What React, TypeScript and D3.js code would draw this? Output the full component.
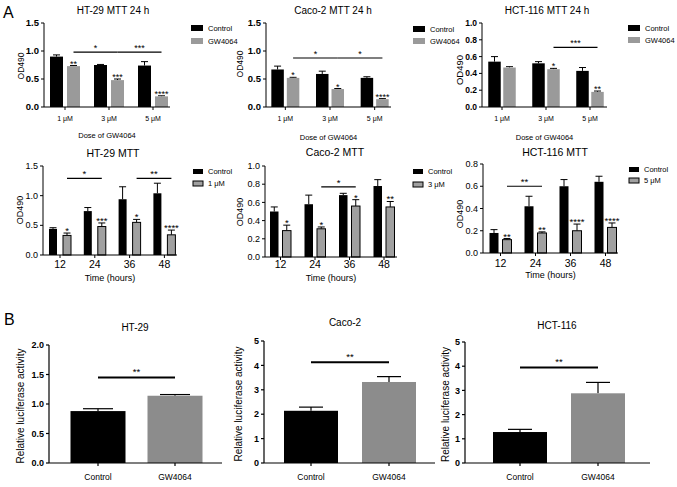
import React from "react";
import * as d3 from "d3";

const FONT = "'Liberation Sans', Arial, Helvetica, sans-serif";
const GRAY_A = "#9a9a9a";
const GRAY_B = "#a0a0a0";
const GRAY_C = "#8c8c8c";

// ---------- Panel A, top row: 24 h dose response ----------
const doseLabels = ["1 μM", "3 μM", "5 μM"];

const ht29DoseControl = [0.9, 0.75, 0.74];
const ht29DoseControlErr = [0.03, 0.01, 0.07];
const ht29DoseGw = [0.73, 0.48, 0.19];
const ht29DoseGwErr = [0.01, 0.02, 0.01];
const ht29DoseStars = ["**", "***", "****"];
const ht29DoseSig: [string, string, string, number][] = [
  ["1 μM", "3 μM", "*", 0.98],
  ["3 μM", "5 μM", "***", 0.98],
];

const cacoDoseControl = [0.67, 0.59, 0.52];
const cacoDoseControlErr = [0.06, 0.05, 0.02];
const cacoDoseGw = [0.52, 0.32, 0.14];
const cacoDoseGwErr = [0.01, 0.01, 0.01];
const cacoDoseStars = ["*", "*", "****"];
const cacoDoseSig: [string, string, string, number][] = [
  ["1 μM", "3 μM", "*", 0.875],
  ["3 μM", "5 μM", "*", 0.875],
];

const hctDoseControl = [0.54, 0.52, 0.43];
const hctDoseControlErr = [0.06, 0.02, 0.04];
const hctDoseGw = [0.47, 0.45, 0.18];
const hctDoseGwErr = [0.01, 0.01, 0.01];
const hctDoseStars = ["", "*", "**"];
const hctDoseSig: [string, string, string, number][] = [["3 μM", "5 μM", "***", 0.71]];

// ---------- Panel A, middle row: time course ----------
const timeLabels = ["12", "24", "36", "48"];

const ht29TimeControl = [0.44, 0.74, 0.94, 1.04];
const ht29TimeControlErr = [0.02, 0.06, 0.21, 0.17];
const ht29TimeGw = [0.33, 0.48, 0.55, 0.34];
const ht29TimeGwErr = [0.04, 0.06, 0.05, 0.08];
const ht29TimeStars = ["*", "***", "*", "****"];
const ht29TimeSig: [string, string, string, number][] = [
  ["12", "24", "*", 1.29],
  ["36", "48", "**", 1.29],
];

const cacoTimeControl = [0.5, 0.58, 0.68, 0.78];
const cacoTimeControlErr = [0.05, 0.1, 0.02, 0.07];
const cacoTimeGw = [0.29, 0.31, 0.56, 0.55];
const cacoTimeGwErr = [0.06, 0.02, 0.07, 0.06];
const cacoTimeStars = ["*", "*", "*", "**"];
const cacoTimeSig: [string, string, string, number][] = [["24", "36", "*", 0.77]];

const hctTimeControl = [0.18, 0.42, 0.6, 0.64];
const hctTimeControlErr = [0.03, 0.09, 0.06, 0.05];
const hctTimeGw = [0.12, 0.18, 0.2, 0.23];
const hctTimeGwErr = [0.01, 0.01, 0.06, 0.04];
const hctTimeStars = ["**", "**", "****", "****"];
const hctTimeSig: [string, string, string, number][] = [["12", "24", "**", 0.6]];

// ---------- Panel B: luciferase ----------
const lucLabels = ["Control", "GW4064"];
const ht29Luc = [0.88, 1.14];
const ht29LucErr = [0.04, 0.02];
const cacoLuc = [2.14, 3.32];
const cacoLucErr = [0.15, 0.22];
const hctLuc = [1.28, 2.88];
const hctLucErr = [0.11, 0.45];

const ticksA15 = [0, 0.5, 1.0, 1.5];
const ticksA10 = [0, 0.2, 0.4, 0.6, 0.8, 1.0];
const ticksB08 = [0, 0.2, 0.4, 0.6, 0.8];
const ticksC20 = [0, 0.5, 1.0, 1.5, 2.0];
const ticksC5 = [0, 1, 2, 3, 4, 5];

type Sig = [string, string, string, number];

interface Layout {
  axisX: number;
  axisRight: number;
  bandStart: number;
  bandEnd: number;
  yZero: number;
  yTop: number;
  bw: number;
  gap: number;
  cap: number;
  tickFont: number;
  catFont: number;
  catY: number;
  xTitle: string;
  xTitleFont: number;
  xTitleY: number;
  title: string;
  titleX: number;
  titleY: number;
  titleFont: number;
  yLabelX: number;
  yLabelY: number;
  yLabelFont: number;
  legX: number;
  legY1: number;
  legY2: number;
  legW: number;
  legH: number;
  legFont: number;
  grayOutline: boolean;
  gray: string;
  starFont: number;
  tickBold: boolean;
}

interface GroupProps {
  cats: string[];
  ctrl: number[];
  ctrlErr: number[];
  gw: number[];
  gwErr: number[];
  stars: string[];
  sigs: Sig[];
  yMax: number;
  yTicks: number[];
  legend2: string;
  L: Layout;
}

function GroupPanel({ cats, ctrl, ctrlErr, gw, gwErr, stars, sigs, yMax, yTicks, legend2, L }: GroupProps) {
  const x = d3.scaleBand<string>().domain(cats).range([L.bandStart, L.bandEnd]).padding(0);
  const y = d3.scaleLinear().domain([0, yMax]).range([L.yZero, L.yTop]);
  const fmt = d3.format(".1f");
  const cx = (c: string) => (x(c) as number) + x.bandwidth() / 2;
  const ctrlX = (c: string) => cx(c) - L.gap / 2 - L.bw;
  const gwX = (c: string) => cx(c) + L.gap / 2;
  const bar = (bx: number, v: number, e: number, fill: string, outline: boolean, key: string) => {
    const mid = bx + L.bw / 2;
    return (
      <g key={key}>
        <line x1={mid} x2={mid} y1={y(v)} y2={y(v + e)} stroke="#000" strokeWidth={1} />
        <line x1={mid - L.cap / 2} x2={mid + L.cap / 2} y1={y(v + e)} y2={y(v + e)} stroke="#000" strokeWidth={1} />
        <rect
          x={bx}
          y={y(v)}
          width={L.bw}
          height={y(0) - y(v)}
          fill={fill}
          stroke={outline ? "#000" : "none"}
          strokeWidth={outline ? 1 : 0}
        />
      </g>
    );
  };
  return (
    <g fontFamily={FONT}>
      <text x={L.titleX} y={L.titleY} textAnchor="middle" fontSize={L.titleFont}>
        {L.title}
      </text>
      {/* y axis */}
      <line x1={L.axisX} x2={L.axisX} y1={y(0)} y2={y(yMax)} stroke="#000" strokeWidth={1} />
      {yTicks.map((t) => (
        <g key={"yt" + t}>
          <line x1={L.axisX - 3} x2={L.axisX} y1={y(t)} y2={y(t)} stroke="#000" />
          <text
            x={L.axisX - 5}
            y={y(t)}
            dy="0.35em"
            textAnchor="end"
            fontSize={L.tickFont}
            fontWeight={L.tickBold ? "bold" : "normal"}
          >
            {fmt(t)}
          </text>
        </g>
      ))}
      <text
        transform={`translate(${L.yLabelX},${L.yLabelY}) rotate(-90)`}
        textAnchor="middle"
        fontSize={L.yLabelFont}
      >
        OD490
      </text>
      {/* bars */}
      {cats.map((c, i) => (
        <g key={c}>
          {bar(ctrlX(c), ctrl[i], ctrlErr[i], "#000", false, "c" + c)}
          {bar(gwX(c), gw[i], gwErr[i], L.gray, L.grayOutline, "g" + c)}
          {stars[i] ? (
            <text
              x={gwX(c) + L.bw / 2}
              y={y(gw[i] + gwErr[i]) + 1}
              textAnchor="middle"
              fontSize={L.starFont}
            >
              {stars[i]}
            </text>
          ) : null}
        </g>
      ))}
      {/* x axis */}
      <line x1={L.axisX} x2={L.axisRight} y1={y(0)} y2={y(0)} stroke="#000" strokeWidth={1} />
      {cats.map((c) => (
        <g key={"xt" + c}>
          <line x1={cx(c)} x2={cx(c)} y1={y(0)} y2={y(0) + 3} stroke="#000" />
          <text x={cx(c)} y={L.catY} textAnchor="middle" fontSize={L.catFont}>
            {c}
          </text>
        </g>
      ))}
      <text x={(L.axisX + L.axisRight) / 2} y={L.xTitleY} textAnchor="middle" fontSize={L.xTitleFont}>
        {L.xTitle}
      </text>
      {/* significance */}
      {sigs.map(([a, b, lab, v], i) => {
        const x1 = gwX(a) + L.bw / 2;
        const x2 = gwX(b) + L.bw / 2;
        return (
          <g key={"s" + i}>
            <line x1={x1} x2={x2} y1={y(v)} y2={y(v)} stroke="#000" strokeWidth={1.2} />
            <text x={(x1 + x2) / 2} y={y(v) - 1} textAnchor="middle" fontSize={L.starFont}>
              {lab}
            </text>
          </g>
        );
      })}
      {/* legend */}
      <rect x={L.legX} y={L.legY1} width={L.legW} height={L.legH} fill="#000" />
      <rect
        x={L.legX}
        y={L.legY2}
        width={L.legW}
        height={L.legH}
        fill={L.gray}
        stroke={L.grayOutline ? "#000" : "none"}
      />
      <text x={L.legX + L.legW + 5} y={L.legY1 + L.legH / 2} dy="0.35em" fontSize={L.legFont}>
        Control
      </text>
      <text x={L.legX + L.legW + 5} y={L.legY2 + L.legH / 2} dy="0.35em" fontSize={L.legFont}>
        {legend2}
      </text>
    </g>
  );
}

interface LucLayout {
  axisX: number;
  axisRight: number;
  bandStart: number;
  bandEnd: number;
  yZero: number;
  yTop: number;
  bw: number;
  cap: number;
  title: string;
  titleX: number;
  titleY: number;
  yLabelX: number;
  sigY: number;
  fmt: string;
}

function LucPanel({ vals, errs, yMax, yTicks, L }: { vals: number[]; errs: number[]; yMax: number; yTicks: number[]; L: LucLayout }) {
  const x = d3.scaleBand<string>().domain(lucLabels).range([L.bandStart, L.bandEnd]).padding(0);
  const y = d3.scaleLinear().domain([0, yMax]).range([L.yZero, L.yTop]);
  const fmt = d3.format(L.fmt);
  const cx = (c: string) => (x(c) as number) + x.bandwidth() / 2;
  const colors = ["#000", GRAY_C];
  const x1 = cx(lucLabels[0]);
  const x2 = cx(lucLabels[1]);
  return (
    <g fontFamily={FONT}>
      <text x={L.titleX} y={L.titleY} textAnchor="middle" fontSize={10}>
        {L.title}
      </text>
      <line x1={L.axisX} x2={L.axisX} y1={y(0)} y2={y(yMax)} stroke="#000" strokeWidth={1.2} />
      {yTicks.map((t) => (
        <g key={"t" + t}>
          <line x1={L.axisX - 3} x2={L.axisX} y1={y(t)} y2={y(t)} stroke="#000" strokeWidth={1.2} />
          <text x={L.axisX - 5} y={y(t)} dy="0.35em" textAnchor="end" fontSize={9} fontWeight="bold">
            {fmt(t)}
          </text>
        </g>
      ))}
      <text
        transform={`translate(${L.yLabelX},${(L.yZero + L.yTop) / 2 + 2}) rotate(-90)`}
        textAnchor="middle"
        fontSize={10}
      >
        Relative luciferase activity
      </text>
      {lucLabels.map((c, i) => {
        const m = cx(c);
        return (
          <g key={c}>
            <line x1={m} x2={m} y1={y(vals[i])} y2={y(vals[i] + errs[i])} stroke="#000" strokeWidth={1.2} />
            <line
              x1={m - L.cap / 2}
              x2={m + L.cap / 2}
              y1={y(vals[i] + errs[i])}
              y2={y(vals[i] + errs[i])}
              stroke="#000"
              strokeWidth={1.2}
            />
            <rect x={m - L.bw / 2} y={y(vals[i])} width={L.bw} height={y(0) - y(vals[i])} fill={colors[i]} />
            <line x1={m} x2={m} y1={y(0)} y2={y(0) + 3} stroke="#000" strokeWidth={1.2} />
            <text x={m} y={480} textAnchor="middle" fontSize={8.5}>
              {c}
            </text>
          </g>
        );
      })}
      <line x1={L.axisX} x2={L.axisRight} y1={y(0)} y2={y(0)} stroke="#000" strokeWidth={1.2} />
      <line x1={x1} x2={x2} y1={y(L.sigY)} y2={y(L.sigY)} stroke="#000" strokeWidth={2} />
      <text x={(x1 + x2) / 2} y={y(L.sigY) - 2} textAnchor="middle" fontSize={9.5}>
        **
      </text>
    </g>
  );
}

const baseA = {
  yZero: 107,
  yTop: 23,
  cap: 7,
  catFont: 7,
  catY: 121,
  xTitle: "Dose of GW4064",
  xTitleFont: 7.5,
  xTitleY: 139,
  titleY: 14,
  titleFont: 10,
  legW: 12,
  legH: 6,
  legFont: 7.5,
  grayOutline: false,
  gray: GRAY_A,
  starFont: 9,
  tickBold: true,
};

const baseB = {
  cap: 7,
  catFont: 10.5,
  catY: 268,
  xTitle: "Time (hours)",
  xTitleFont: 9,
  xTitleY: 281,
  titleY: 157,
  titleFont: 10.5,
  legW: 10,
  legH: 5,
  legFont: 7.5,
  grayOutline: true,
  gray: GRAY_B,
  starFont: 9.5,
  tickBold: false,
};

export default function App() {
  return (
    <svg
      width={677}
      height={487}
      viewBox="0 0 677 487"
      style={{ position: "absolute", left: 0, top: 0, background: "#fff" }}
    >
      <rect x={0} y={0} width={677} height={487} fill="#fff" />
      <text x={3} y={18} fontFamily={FONT} fontSize={16}>
        A
      </text>
      <text x={4} y={325} fontFamily={FONT} fontSize={16}>
        B
      </text>

      <GroupPanel
        cats={doseLabels}
        ctrl={ht29DoseControl}
        ctrlErr={ht29DoseControlErr}
        gw={ht29DoseGw}
        gwErr={ht29DoseGwErr}
        stars={ht29DoseStars}
        sigs={ht29DoseSig}
        yMax={1.5}
        yTicks={ticksA15}
        legend2="GW4064"
        L={{
          ...baseA,
          axisX: 44,
          axisRight: 170,
          bandStart: 43,
          bandEnd: 175,
          bw: 13,
          gap: 4,
          tickFont: 9.5,
          xTitleY: 138,
          title: "HT-29 MTT 24 h",
          titleX: 113,
          yLabelX: 24,
          yLabelY: 66,
          yLabelFont: 8.5,
          legX: 191,
          legY1: 25,
          legY2: 38,
        }}
      />
      <GroupPanel
        cats={doseLabels}
        ctrl={cacoDoseControl}
        ctrlErr={cacoDoseControlErr}
        gw={cacoDoseGw}
        gwErr={cacoDoseGwErr}
        stars={cacoDoseStars}
        sigs={cacoDoseSig}
        yMax={1.5}
        yTicks={ticksA15}
        legend2="GW4064"
        L={{
          ...baseA,
          axisX: 266,
          axisRight: 391,
          bandStart: 263,
          bandEnd: 397,
          bw: 12.5,
          gap: 3,
          tickFont: 9.5,
          xTitleY: 140,
          title: "Caco-2 MTT 24 h",
          titleX: 333,
          yLabelX: 243,
          yLabelY: 64,
          yLabelFont: 8.5,
          legX: 413,
          legY1: 26,
          legY2: 38,
        }}
      />
      <GroupPanel
        cats={doseLabels}
        ctrl={hctDoseControl}
        ctrlErr={hctDoseControlErr}
        gw={hctDoseGw}
        gwErr={hctDoseGwErr}
        stars={hctDoseStars}
        sigs={hctDoseSig}
        yMax={1.0}
        yTicks={ticksA10}
        legend2="GW4064"
        L={{
          ...baseA,
          axisX: 482,
          axisRight: 607,
          bandStart: 480,
          bandEnd: 612,
          bw: 12.5,
          gap: 2.5,
          tickFont: 8.5,
          xTitleY: 140,
          title: "HCT-116 MTT 24 h",
          titleX: 547,
          yLabelX: 463,
          yLabelY: 70,
          yLabelFont: 9.5,
          legX: 628,
          legY1: 25,
          legY2: 37,
        }}
      />

      <GroupPanel
        cats={timeLabels}
        ctrl={ht29TimeControl}
        ctrlErr={ht29TimeControlErr}
        gw={ht29TimeGw}
        gwErr={ht29TimeGwErr}
        stars={ht29TimeStars}
        sigs={ht29TimeSig}
        yMax={1.5}
        yTicks={ticksA15}
        legend2="1 μM"
        L={{
          ...baseB,
          axisX: 43,
          axisRight: 177,
          bandStart: 42.6,
          bandEnd: 181.8,
          yZero: 255,
          yTop: 166,
          bw: 8,
          gap: 6,
          tickFont: 9,
          title: "HT-29 MTT",
          titleX: 113,
          yLabelX: 23,
          yLabelY: 210,
          yLabelFont: 9,
          legX: 193,
          legY1: 169,
          legY2: 181,
        }}
      />
      <GroupPanel
        cats={timeLabels}
        ctrl={cacoTimeControl}
        ctrlErr={cacoTimeControlErr}
        gw={cacoTimeGw}
        gwErr={cacoTimeGwErr}
        stars={cacoTimeStars}
        sigs={cacoTimeSig}
        yMax={1.0}
        yTicks={ticksA10}
        legend2="3 μM"
        L={{
          ...baseB,
          axisX: 265,
          axisRight: 397,
          bandStart: 263.25,
          bandEnd: 401.25,
          yZero: 257,
          yTop: 166,
          bw: 8.5,
          gap: 4,
          tickFont: 9,
          title: "Caco-2 MTT",
          titleX: 335,
          titleY: 156,
          yLabelX: 243,
          yLabelY: 212,
          yLabelFont: 9,
          legX: 413,
          legY1: 169,
          legY2: 182,
        }}
      />
      <GroupPanel
        cats={timeLabels}
        ctrl={hctTimeControl}
        ctrlErr={hctTimeControlErr}
        gw={hctTimeGw}
        gwErr={hctTimeGwErr}
        stars={hctTimeStars}
        sigs={hctTimeSig}
        yMax={0.8}
        yTicks={ticksB08}
        legend2="5 μM"
        L={{
          ...baseB,
          axisX: 483,
          axisRight: 618,
          bandStart: 483,
          bandEnd: 623,
          yZero: 253,
          yTop: 164,
          bw: 9,
          gap: 4,
          tickFont: 9,
          catY: 267,
          xTitleY: 278,
          title: "HCT-116 MTT",
          titleX: 555,
          titleY: 156,
          yLabelX: 463,
          yLabelY: 214,
          yLabelFont: 9,
          legX: 629,
          legY1: 167,
          legY2: 178,
        }}
      />

      <LucPanel
        vals={ht29Luc}
        errs={ht29LucErr}
        yMax={2.0}
        yTicks={ticksC20}
        L={{
          axisX: 49,
          axisRight: 222,
          bandStart: 59.5,
          bandEnd: 213.5,
          yZero: 463,
          yTop: 345,
          bw: 55,
          cap: 30,
          title: "HT-29",
          titleX: 135,
          titleY: 331,
          yLabelX: 24,
          sigY: 1.45,
          fmt: ".1f",
        }}
      />
      <LucPanel
        vals={cacoLuc}
        errs={cacoLucErr}
        yMax={5}
        yTicks={ticksC5}
        L={{
          axisX: 264,
          axisRight: 435,
          bandStart: 272,
          bandEnd: 428,
          yZero: 463,
          yTop: 341,
          bw: 54,
          cap: 24,
          title: "Caco-2",
          titleX: 345,
          titleY: 326,
          yLabelX: 242,
          sigY: 4.13,
          fmt: "d",
        }}
      />
      <LucPanel
        vals={hctLuc}
        errs={hctLucErr}
        yMax={5}
        yTicks={ticksC5}
        L={{
          axisX: 465,
          axisRight: 650,
          bandStart: 481,
          bandEnd: 637,
          yZero: 463,
          yTop: 342,
          bw: 54,
          cap: 24,
          title: "HCT-116",
          titleX: 557,
          titleY: 329,
          yLabelX: 449,
          sigY: 3.95,
          fmt: "d",
        }}
      />
    </svg>
  );
}
